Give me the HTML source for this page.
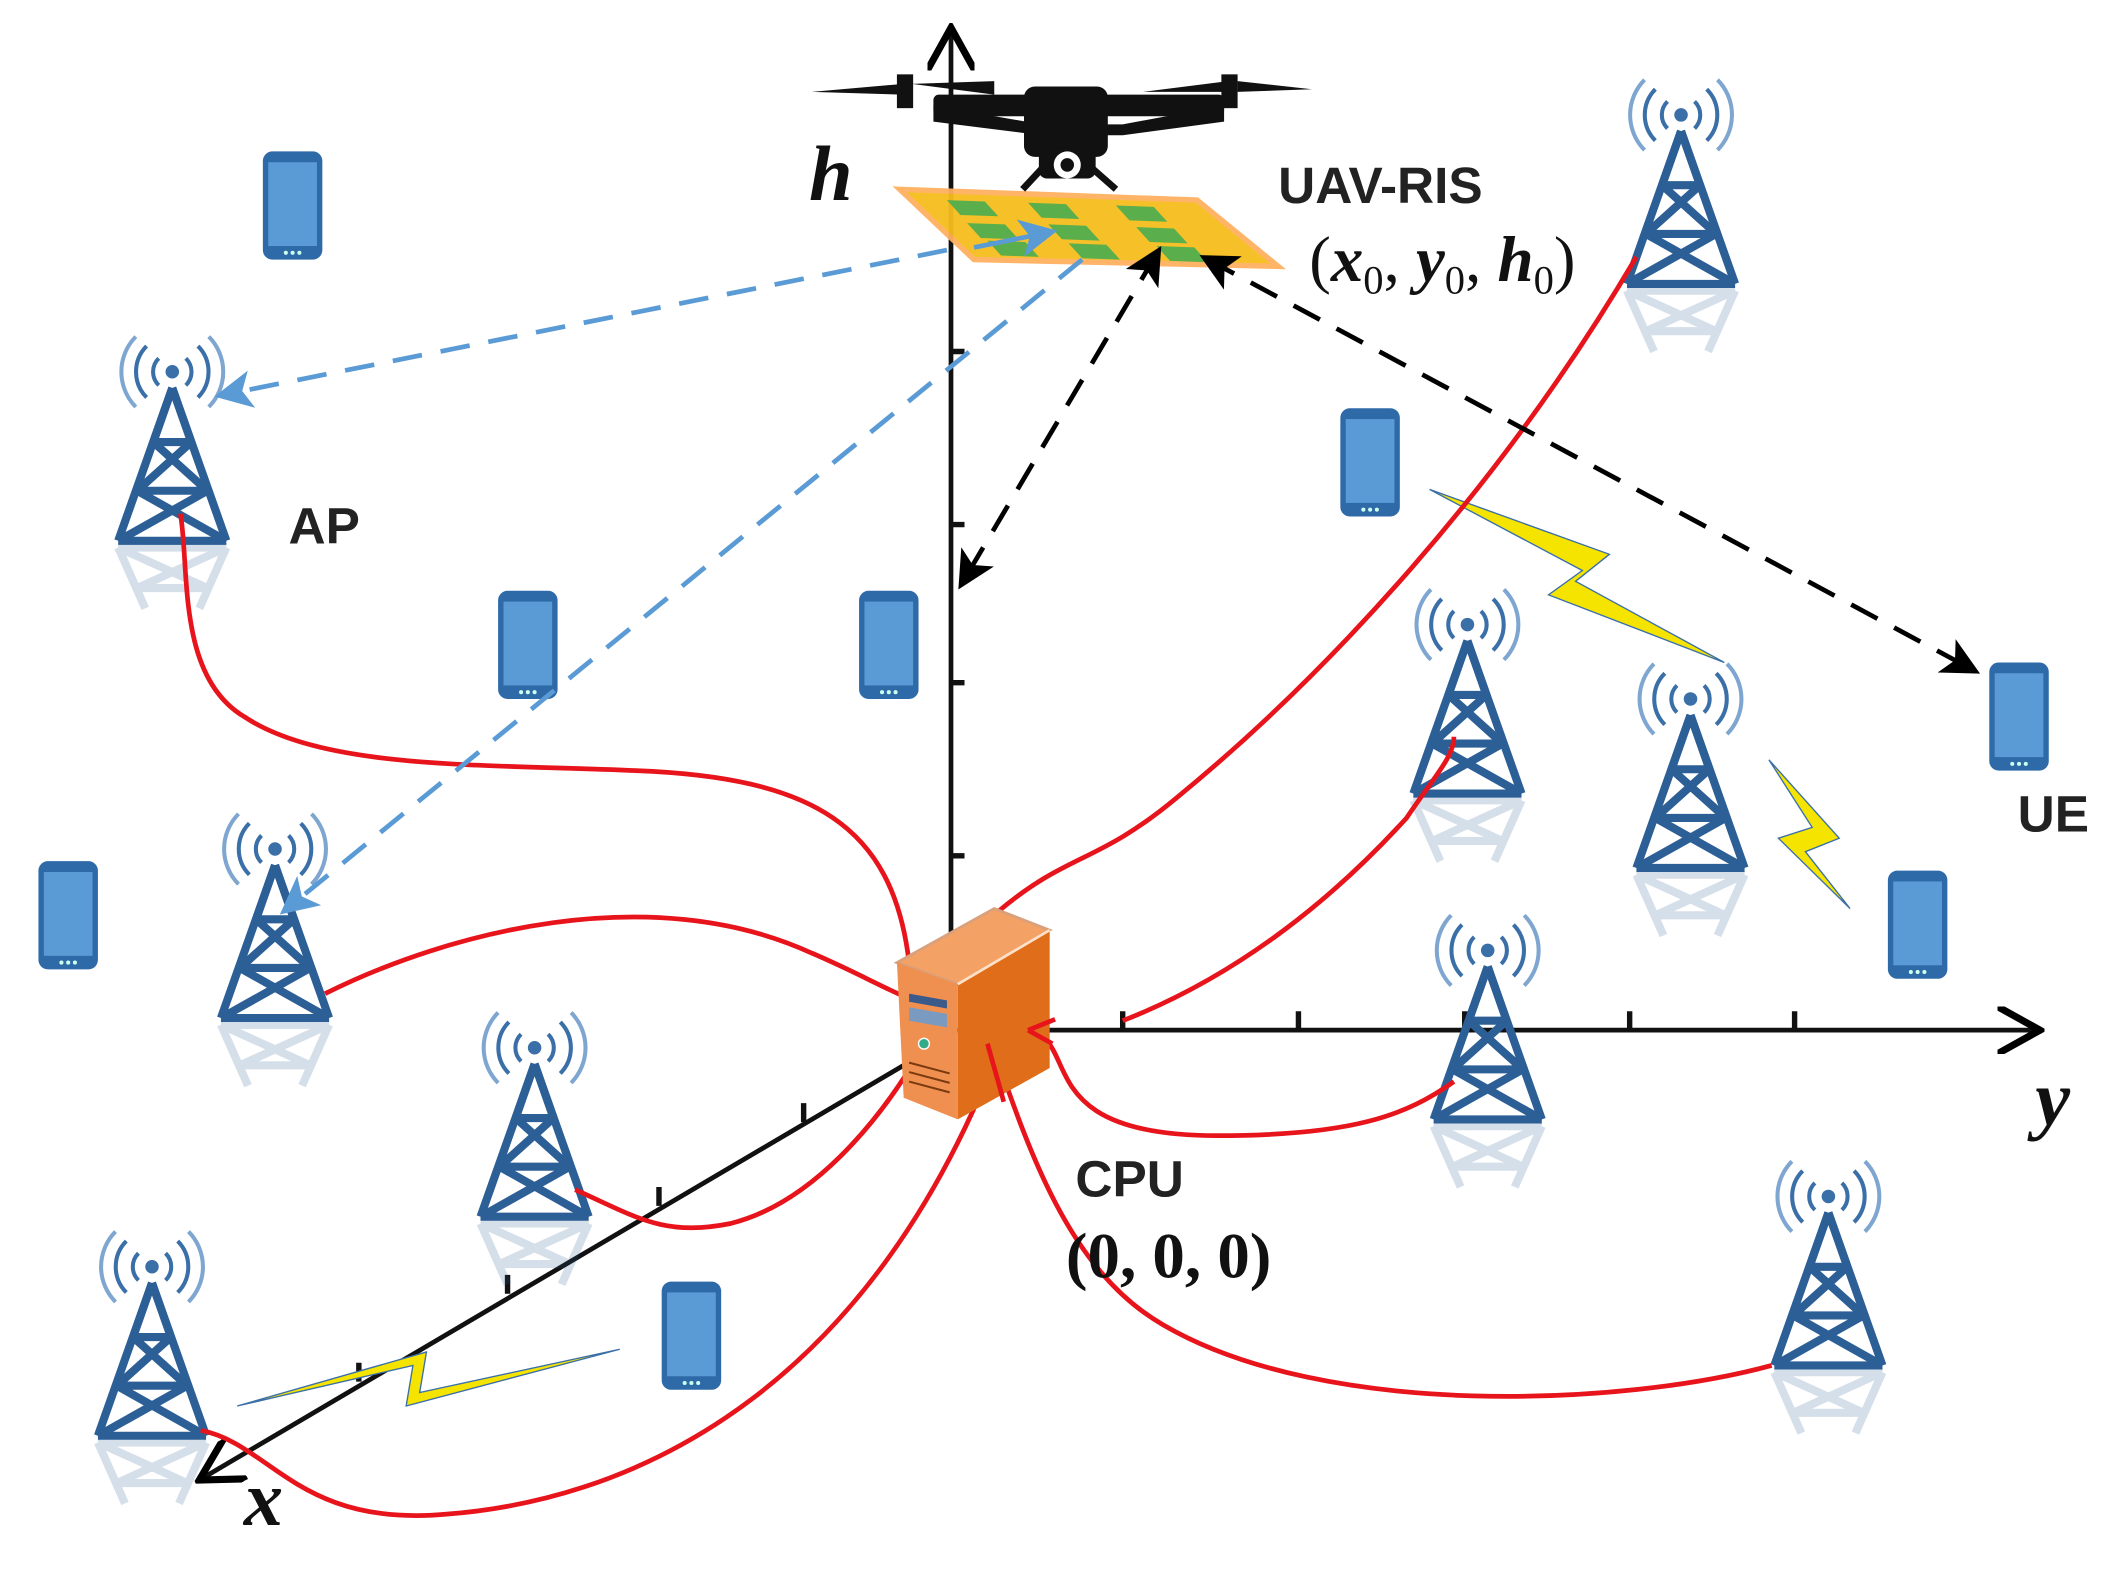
<!DOCTYPE html>
<html><head><meta charset="utf-8"><style>html,body{margin:0;padding:0;background:#fff}svg{display:block}</style></head>
<body>
<svg width="2121" height="1575" viewBox="0 0 1568 1165" xmlns="http://www.w3.org/2000/svg" font-family="Liberation Sans, sans-serif">
<defs>
<g id="tw">
 <g fill="none" stroke="#3a6fa8" stroke-width="3">
  <path d="M-10,-10 A14,14 0 0,0 -10,10"/><path d="M10,-10 A14,14 0 0,1 10,10"/>
  <path d="M-19,-19 A27,27 0 0,0 -19,19"/><path d="M19,-19 A27,27 0 0,1 19,19"/>
  <path d="M-27,-26 A37,37 0 0,0 -27,26" stroke="#7ea6d0"/><path d="M27,-26 A37,37 0 0,1 27,26" stroke="#7ea6d0"/>
 </g>
 <circle cx="0" cy="0" r="5" fill="#3a6fa8"/>
 <g fill="none" stroke="#2d5f97" stroke-width="6" stroke-linejoin="round">
  <path d="M0,12 L-40,125 M0,12 L40,125 M-40,125 L40,125"/>
  <path d="M-14,52 L14,52 M-26,88 L26,88 M-14,52 L26,88 M14,52 L-26,88 M-26,88 L40,125 M26,88 L-40,125 M0,12 L-14,52 M0,12 L14,52"/>
 </g>
 <g fill="none" stroke="#2d5f97" stroke-width="6" opacity="0.2">
  <path d="M-40,130 L40,130 M-40,130 L-20,175 M40,130 L20,175 M-26,160 L26,160 M-40,130 L26,160 M40,130 L-26,160"/>
 </g>
</g>
<g id="ph">
 <rect x="-22" y="-40" width="44" height="80" rx="7" fill="#2f6aa8"/>
 <rect x="-18" y="-32" width="36" height="62" fill="#5b9bd5"/>
 <circle cx="-5" cy="35" r="1.5" fill="#cfe"/><circle cx="0" cy="35" r="1.5" fill="#cfe"/><circle cx="5" cy="35" r="1.5" fill="#cfe"/>
</g>
<marker id="ab" markerWidth="8" markerHeight="8" refX="6" refY="4" orient="auto" markerUnits="strokeWidth"><path d="M0,0 L8,4 L0,8 L2,4z" fill="#5b9bd5"/></marker>
<marker id="ak" markerWidth="8" markerHeight="8" refX="6" refY="4" orient="auto-start-reverse" markerUnits="strokeWidth"><path d="M0,0 L8,4 L0,8 L2,4z" fill="#000"/></marker>
<marker id="ax" markerWidth="10" markerHeight="10" refX="8" refY="5" orient="auto" markerUnits="strokeWidth"><path d="M0,0 L9,5 L0,10" fill="none" stroke="#000" stroke-width="1.5"/></marker>
</defs>

<g stroke="#111" stroke-width="4" fill="none">
 <line x1="703" y1="770" x2="703" y2="24" marker-end="url(#ax)" stroke-width="3.5"/>
 <line x1="703" y1="762" x2="1505" y2="762" marker-end="url(#ax)" stroke-width="3.5"/>
 <line x1="668" y1="788" x2="150" y2="1093" marker-end="url(#ax)" stroke-width="3.5"/>
 <path d="M703,260 h10 M703,388 h10 M703,505 h10 M703,633 h10"/>
 <path d="M830,762 v-14 M960,762 v-14 M1083,762 v-14 M1205,762 v-14 M1327,762 v-14"/>
 <path d="M594,830 v-14 M487,892 v-14 M375,957 v-14 M265,1022 v-14"/>
</g>

<use href="#tw" x="1243" y="85"/>
<use href="#tw" x="127" y="275"/>
<use href="#tw" x="203" y="628"/>
<use href="#tw" x="395" y="775"/>
<use href="#tw" x="112" y="937"/>
<use href="#tw" x="1085" y="462"/>
<use href="#tw" x="1250" y="517"/>
<use href="#tw" x="1100" y="703"/>
<use href="#tw" x="1352" y="885"/>

<use href="#ph" x="216" y="152"/>
<use href="#ph" x="1013" y="342"/>
<use href="#ph" x="390" y="477"/>
<use href="#ph" x="657" y="477"/>
<use href="#ph" x="50" y="677"/>
<use href="#ph" x="1493" y="530"/>
<use href="#ph" x="1418" y="684"/>
<use href="#ph" x="511" y="988"/>

<g fill="#f5e400" stroke="#3a6fa8" stroke-width="1">
 <path d="M1057,362 L1190,410 L1165,430 L1275,490 L1145,440 L1170,422 Z"/>
 <path d="M1308,562 L1360,620 L1335,630 L1368,672 L1315,620 L1340,612 Z"/>
 <path d="M175,1040 L305,1010 L300,1040 L458,998 L310,1030 L315,1000 Z"/>
</g>

<g stroke="#e8141c" stroke-width="3.5" fill="none">
 <path d="M133,380 C140,420 130,500 180,530 C240,570 360,565 470,570 C600,575 660,610 672,712"/>
 <path d="M240,735 C330,690 480,650 600,705 C640,722 665,738 690,745"/>
 <path d="M425,880 C470,900 490,915 540,905 C600,890 650,830 682,775"/>
 <path d="M148,1058 C200,1068 220,1130 330,1120 C460,1110 620,1040 720,820"/>
 <path d="M737,675 C790,630 810,640 870,590 C980,500 1110,360 1210,190"/>
 <path d="M830,755 C920,720 990,660 1040,605 C1060,575 1075,560 1075,545"/>
 <path d="M760,762 C800,770 760,840 900,840 C1000,840 1040,825 1075,800"/>
 <path d="M732,768 C760,850 790,940 860,980 C980,1050 1200,1040 1310,1010"/>
</g>

<g>
 <polygon points="663,712 735,672 776,688 708,728" fill="#f3a165" stroke="#d9a07c" stroke-width="2"/>
 <polygon points="663,712 708,728 708,828 668,812" fill="#f09050"/>
 <polygon points="708,728 776,688 776,790 708,828" fill="#e06d1a"/>
 <path d="M708,728 L776,688" stroke="#fde0c8" stroke-width="2"/>
 <rect x="672" y="735" width="28" height="6" fill="#3a5a8a" transform="skewY(10)" transform-origin="672 735"/>
 <rect x="672" y="745" width="28" height="10" fill="#7a9ac0" transform="skewY(10)" transform-origin="672 745"/>
 <circle cx="683" cy="772" r="4" fill="#3a8" stroke="#fff" stroke-width="1"/>
 <path d="M672,786 l30,8 M672,793 l30,8 M672,800 l30,8" stroke="#7a3a10" stroke-width="1.5"/>
 <path d="M730,772 C735,790 738,800 742,815" stroke="#e8141c" stroke-width="3.5" fill="none"/>
 <path d="M760,762 l20,-8 M760,762 l18,10" stroke="#e8141c" stroke-width="3.5"/>
</g>

<g>
 <polygon points="665,140 885,148 945,197 720,192" fill="#f6be1d" stroke="#ffb060" stroke-width="4" opacity="0.95"/>
 <g fill="#5aae4c">
  <polygon points="700,148 728,149 738,160 710,159"/><polygon points="760,150 788,151 798,162 770,161"/><polygon points="825,152 853,153 863,164 835,163"/>
  <polygon points="715,165 743,166 753,177 725,176"/><polygon points="775,166 803,167 813,178 785,177"/><polygon points="840,168 868,169 878,180 850,179"/>
  <polygon points="730,178 758,179 768,190 740,189"/><polygon points="790,180 818,181 828,192 800,191"/><polygon points="855,182 883,183 893,194 865,193"/>
 </g>
</g>

<g fill="#111">
 <rect x="690" y="70" width="215" height="16" rx="4"/>
 <path d="M690,78 L770,92 L830,92 L905,78 L905,90 L830,100 L770,100 L690,90 Z"/>
 <rect x="757" y="64" width="62" height="52" rx="8"/>
 <rect x="768" y="110" width="42" height="22" rx="6"/>
 <circle cx="789" cy="122" r="10" fill="#fff"/><circle cx="789" cy="122" r="5"/>
 <path d="M770,125 L756,140 M808,125 L825,140" stroke="#111" stroke-width="5"/>
 <rect x="663" y="55" width="12" height="25"/><rect x="903" y="55" width="12" height="25"/>
 <path d="M600,68 L668,62 L668,70 Z M674,62 L735,60 L735,70 Z M845,68 L908,60 L908,68 Z M915,60 L970,66 L915,68 Z"/>
</g>

<g fill="none" stroke-width="3.5" stroke-dasharray="22,14">
 <line x1="700" y1="185" x2="165" y2="292" stroke="#5b9bd5" marker-end="url(#ab)"/>
 <line x1="800" y1="192" x2="212" y2="672" stroke="#5b9bd5" marker-end="url(#ab)"/>
 <line x1="720" y1="183" x2="775" y2="172" stroke="#5b9bd5" stroke-dasharray="none" marker-end="url(#ab)"/>
 <line x1="855" y1="188" x2="712" y2="430" stroke="#000" marker-start="url(#ak)" marker-end="url(#ak)"/>
 <line x1="893" y1="192" x2="1458" y2="495" stroke="#000" marker-start="url(#ak)" marker-end="url(#ak)"/>
</g>

<g font-weight="bold" fill="#222" font-size="38">
 <text x="945" y="150">UAV-RIS</text>
 <text x="213" y="402">AP</text>
 <text x="795" y="885">CPU</text>
 <text x="1492" y="615">UE</text>
</g>
<g font-family="Liberation Serif, serif" font-style="italic" font-weight="bold" fill="#111">
 <text x="598" y="148" font-size="58">h</text>
 <text x="1505" y="832" font-size="58">y</text>
 <text x="180" y="1128" font-size="58">x</text>
</g>
<g font-family="Liberation Serif, serif" fill="#111" font-size="48">
 <text x="968" y="208">(<tspan font-style="italic" font-weight="bold">x</tspan><tspan font-size="30" dy="9">0</tspan><tspan dy="-9">, </tspan><tspan font-style="italic" font-weight="bold">y</tspan><tspan font-size="30" dy="9">0</tspan><tspan dy="-9">, </tspan><tspan font-style="italic" font-weight="bold">h</tspan><tspan font-size="30" dy="9">0</tspan><tspan dy="-9">)</tspan></text>
 <text x="788" y="945" font-weight="bold" textLength="152">(0, 0, 0)</text>
</g>
</svg>
</body></html>
